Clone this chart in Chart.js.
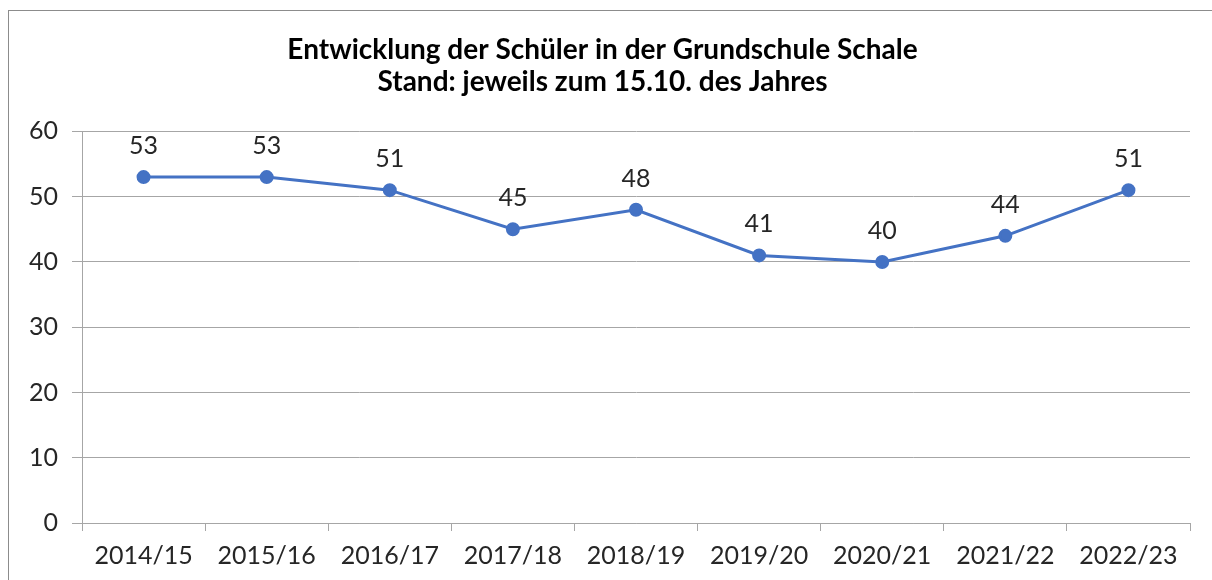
<!DOCTYPE html>
<html>
<head>
<meta charset="utf-8">
<script src="https://cdn.jsdelivr.net/npm/chart.js@4"></script>
<style>
  body { margin: 0; background: #fff; overflow: hidden; }
  #frame { position: absolute; left: 8px; top: 10px; width: 1400px; height: 800px; border: 1px solid #8c8c8c; }
  #c { position: absolute; left: 0; top: 0; }
</style>
</head>
<body>
<div id="frame"></div>
<canvas id="c" width="1212" height="580"></canvas>
<script>
// school years and pupil counts
const years = ['2014/15', '2015/16', '2016/17', '2017/18', '2018/19', '2019/20', '2020/21', '2021/22', '2022/23'];
const pupils = [53, 53, 51, 45, 48, 41, 40, 44, 51];
const titleLines = ['Entwicklung der Schüler in der Grundschule Schale', 'Stand: jeweils zum 15.10. des Jahres'];

// simple value labels above each point
const valueLabels = {
    id: 'valueLabels',
    afterDatasetsDraw(chart) {
        const ctx = chart.ctx;
        const meta = chart.getDatasetMeta(0);
        ctx.save();
        ctx.font = '25px Lato';
        ctx.fillStyle = '#262626';
        ctx.textAlign = 'center';
        ctx.textBaseline = 'middle';
        meta.data.forEach((pt, i) => {
            ctx.fillText(chart.data.datasets[0].data[i], pt.x, pt.y - 31);
        });
        ctx.restore();
    }
};

new Chart(document.getElementById('c'), {
    type: 'line',
    data: {
        labels: years,
        datasets: [{
            data: pupils,
            borderColor: '#4472C4',
            backgroundColor: '#4472C4',
            borderWidth: 3,
            pointRadius: 5.5,
            pointHoverRadius: 5.5,
            tension: 0
        }]
    },
    options: {
        responsive: false,
        animation: false,
        layout: { padding: { left: 15, right: 22, top: 34, bottom: 0 } },
        plugins: {
            legend: { display: false },
            tooltip: { enabled: false },
            title: {
                display: true,
                text: titleLines,
                color: '#000',
                font: { family: 'Lato', size: 28, weight: 'bold', lineHeight: 1.15 },
                padding: { top: 0, bottom: 33 }
            }
        },
        scales: {
            x: {
                offset: true,
                grid: { offset: true, drawOnChartArea: false, drawTicks: true, tickLength: 8, color: '#a6a6a6' },
                border: { color: '#a6a6a6' },
                ticks: { color: '#262626', font: { family: 'Lato', size: 25, lineHeight: 1.0 }, padding: 12, maxRotation: 0 }
            },
            y: {
                min: 0,
                max: 60,
                ticks: { stepSize: 10, color: '#262626', font: { family: 'Lato', size: 25 }, padding: 14 },
                grid: { color: '#a6a6a6', tickLength: 10 },
                border: { color: '#a6a6a6' }
            }
        }
    },
    plugins: [valueLabels]
});
</script>
</body>
</html>
